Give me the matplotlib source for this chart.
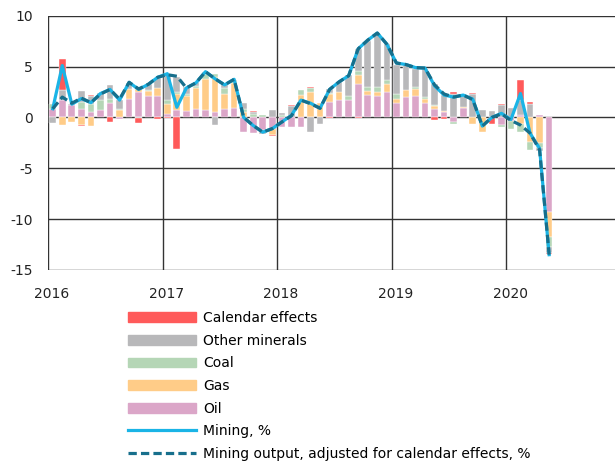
import numpy as np
import matplotlib
matplotlib.use("Agg")
import matplotlib.pyplot as plt
import matplotlib.transforms as mtransforms
from matplotlib.patches import Patch
from matplotlib.lines import Line2D

plt.rcParams["axes.unicode_minus"] = False

# monthly data, Jan 2016 - May 2020 (percentage points)
oil = [0.85, 1.7, 1.2, 0.85, 0.5, 0.7, 1.4, -0.15, 1.85, 2.5, 2.1, 2.1,
       0.35, 0.7, 0.6, 0.85, 0.7, 0.55, 0.85, 0.9, -1.45, -1.5, -1.2, -1.1,
       -0.9, -0.95, -0.95, 0.0, 0.0, 1.55, 1.7, 1.7, 3.25, 2.25, 2.15, 2.5,
       1.45, 2.0, 2.15, 1.4, 0.85, 0.5, -0.45, 0.9, 0.0, 0.0, 0.0, -0.75,
       -0.4, 0.2, 0.0, 0.25, -9.3]
gas = [0.0, -0.7, -0.45, -0.7, -0.8, 0.0, 0.0, 0.7, 0.9, 0.25, 0.45, 0.75,
       1.0, 1.6, 1.5, 2.0, 3.1, 3.4, 1.5, 2.5, 0.5, 0.0, -0.2, -0.6,
       0.0, 0.0, 2.25, 2.5, 1.45, 0.8, 0.8, 0.0, 0.9, 0.3, 0.35, 0.75,
       0.4, 0.65, 0.65, 0.45, 0.3, 0.15, 0.0, 0.15, -0.6, -1.45, 0.0, 0.0,
       0.0, -0.6, -2.4, -2.5, -2.5]
coal = [0.5, 0.0, 0.0, 0.65, 0.8, 1.0, 0.4, 0.1, 0.0, 0.1, 0.15, 0.0,
        0.35, 0.2, 0.2, 0.25, 0.5, 0.3, 0.5, 0.15, 0.35, 0.3, 0.2, 0.0,
        0.2, 0.0, 0.4, 0.35, 0.0, 0.1, 0.0, 0.4, 0.4, 0.45, 0.5, 0.45,
        0.45, 0.0, 0.15, 0.15, 0.1, 0.0, -0.15, 0.0, 0.0, 0.0, 0.0, -0.15,
        -0.7, -0.8, -0.8, -0.5, -0.9]
other = [-0.55, 1.0, 0.15, 1.05, 0.8, 0.75, 1.4, 0.95, 0.6, -0.1, 0.55, 1.0,
         2.6, 1.5, 0.7, 0.4, 0.2, -0.7, 0.45, 0.15, 0.6, 0.2, -0.25, 0.7,
         0.25, 1.1, 0.0, -1.45, -0.6, 0.35, 1.0, 2.05, 2.2, 4.5, 5.25, 3.55,
         2.9, 2.5, 1.8, 2.8, 2.05, 1.55, 2.35, 1.1, 2.3, 0.7, 0.65, 1.2,
         0.9, 1.5, 1.35, -0.35, -0.6]
calendar = [0.0, 3.0, 0.0, -0.1, 0.1, 0.0, -0.45, 0.0, 0.0, -0.4, 0.0, -0.15,
            -0.1, -3.1, 0.0, 0.0, 0.0, 0.0, 0.0, 0.0, 0.0, 0.15, 0.0, -0.1,
            0.0, 0.1, 0.0, 0.15, 0.0, -0.1, 0.0, 0.0, -0.1, 0.0, 0.0, 0.0,
            0.0, 0.0, 0.0, 0.0, -0.3, -0.2, 0.15, 0.0, 0.15, 0.0, -0.6, 0.15,
            0.0, 2.0, 0.15, 0.0, -0.1]
mining = [0.85, 5.1, 1.3, 1.85, 1.45, 2.35, 2.75, 1.7, 3.45, 2.75, 3.25, 3.95,
          4.3, 1.0, 2.9, 3.4, 4.5, 3.8, 3.2, 3.75, 0.0, -0.8, -1.45, -1.1,
          -0.45, 0.2, 1.7, 1.4, 0.9, 2.75, 3.5, 4.1, 6.75, 7.6, 8.3, 7.2,
          5.35, 5.2, 4.9, 4.85, 3.1, 2.2, 2.0, 2.2, 1.8, -0.85, 0.0, 0.4,
          -0.2, 2.35, -1.55, -3.05, -13.5]
mining_adj = [0.85, 2.0, 1.4, 1.9, 1.45, 2.3, 2.75, 1.8, 3.45, 2.8, 3.25, 3.95,
              4.2, 4.05, 2.9, 3.4, 4.5, 3.8, 3.2, 3.75, 0.0, -0.8, -1.45, -1.1,
              -0.45, 0.15, 1.7, 1.35, 0.9, 2.75, 3.5, 4.1, 6.75, 7.6, 8.3, 7.2,
              5.35, 5.2, 4.9, 4.85, 3.2, 2.3, 2.0, 2.2, 1.75, -0.85, 0.0, 0.35,
              -0.3, -0.75, -1.55, -3.2, -13.5]

years = [2016, 2017, 2018, 2019, 2020]

series = [("Oil", oil, "#dba6c8"),
          ("Gas", gas, "#ffcc88"),
          ("Coal", coal, "#b5d6b6"),
          ("Other minerals", other, "#b8b8ba"),
          ("Calendar effects", calendar, "#ff5a5a")]

x = 2016 + (np.arange(len(oil)) + 0.5) / 12
dash = (0, (2.6, 1.3))

fig = plt.figure(figsize=(6.15, 4.63), dpi=100)
ax = fig.add_axes([0.078, 0.417, 0.922, 0.549])

pos_base = np.zeros(len(x))
neg_base = np.zeros(len(x))
for name, vals, col in series:
    v = np.array(vals)
    for mask, base in ((v > 0, pos_base), (v < 0, neg_base)):
        ax.bar(x[mask], v[mask], bottom=base[mask], width=0.7 / 12, color=col,
               edgecolor="white", linewidth=0.3, zorder=2)
        base[mask] += v[mask]

ax.plot(x, mining, color="#1ab4e6", lw=2.3, zorder=3)
ax.plot(x, mining_adj, color="#176f8c", lw=2.3, ls=dash, zorder=4)

ax.set_xlim(2016, 2020.95)
ax.set_ylim(-15, 10)
ax.set_yticks([-15, -10, -5, 0, 5, 10])
ax.set_xticks(years)
ax.grid(True, color="#333333", lw=1, zorder=0)
ax.set_axisbelow(True)
for s in ax.spines.values():
    s.set_visible(False)
ax.tick_params(length=0, labelsize=10, colors="#222222")
ax.tick_params(axis="y", pad=11)
ax.tick_params(axis="x", pad=12)
offset = mtransforms.ScaledTranslation(4 / 100, 0, fig.dpi_scale_trans)
for lab in ax.get_xticklabels():
    lab.set_transform(lab.get_transform() + offset)

handles = [Patch(color=c) for _, _, c in series[::-1]]
labels = [n for n, _, _ in series[::-1]]
handles += [Line2D([], [], color="#1ab4e6", lw=2.3),
            Line2D([], [], color="#176f8c", lw=2.3, ls=dash)]
labels += ["Mining, %", "Mining output, adjusted for calendar effects, %"]
fig.legend(handles, labels, loc="upper left", bbox_to_anchor=(0.208, 0.328),
           frameon=False, fontsize=10, handlelength=4.9, handleheight=0.7,
           handletextpad=0.5, labelspacing=0.62, borderpad=0, borderaxespad=0)

fig.savefig("out.png", dpi=100)
